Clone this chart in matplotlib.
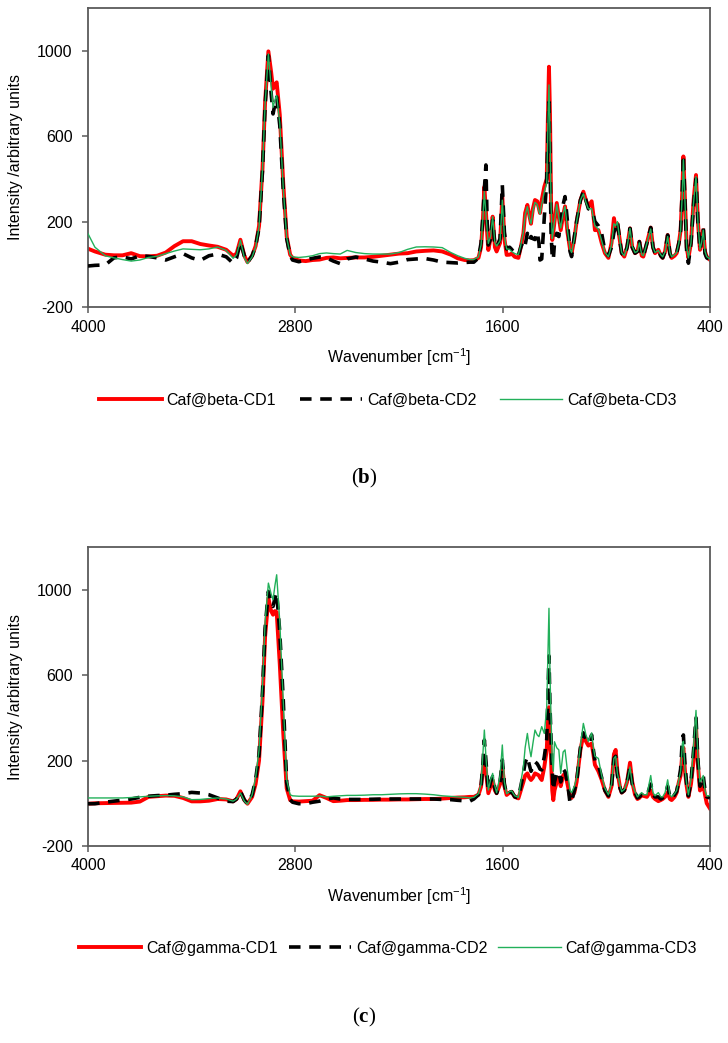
#!/usr/bin/env python3

import matplotlib
matplotlib.use('Agg')
import matplotlib.pyplot as plt

plt.rcParams['font.family'] = ['Liberation Sans', 'DejaVu Sans']
plt.rcParams['mathtext.fontset'] = 'custom'
plt.rcParams['mathtext.rm'] = 'Liberation Sans'
plt.rcParams['mathtext.bf'] = 'Liberation Serif:bold'
plt.rcParams['axes.unicode_minus'] = False

# shared wavenumber grid (cm-1)
wn = [4000, 3960, 3900, 3850, 3800, 3750, 3700, 3650, 3600, 3550,
      3500, 3450, 3400, 3350, 3300, 3250, 3200, 3160, 3140, 3118,
      3095, 3077, 3050, 3030, 3010, 2990, 2975, 2956, 2940, 2929,
      2918, 2908, 2890, 2870, 2850, 2830, 2816, 2780, 2740, 2700,
      2660, 2620, 2580, 2540, 2500, 2450, 2400, 2350, 2300, 2250,
      2200, 2150, 2100, 2050, 2000, 1950, 1900, 1860, 1820, 1790,
      1767, 1740, 1725, 1715, 1706, 1697, 1690, 1683, 1670, 1658,
      1645, 1635, 1615, 1602, 1590, 1577, 1560, 1548, 1530, 1509,
      1495, 1480, 1470, 1457, 1446, 1436, 1425, 1413, 1400, 1390,
      1384, 1374, 1359, 1345, 1338, 1332, 1326, 1320, 1313, 1307,
      1300, 1287, 1275, 1264, 1250, 1239, 1225, 1210, 1201, 1185,
      1172, 1150, 1133, 1118, 1104, 1085, 1075, 1066, 1046, 1027,
      1008, 988, 970, 956, 946, 936, 920, 911, 896, 880,
      863, 850, 834, 820, 809, 795, 786, 765, 743, 730,
      718, 699, 685, 674, 660, 645, 632, 622, 605, 593,
      580, 570, 560, 554, 545, 535, 525, 510, 495, 481,
      470, 458, 449, 439, 429, 419, 400]

# panel (b): beta-CD
beta_cd1 = [73, 60, 45, 42, 42, 52, 38, 37, 40, 55,
            85, 108, 108, 95, 88, 82, 68, 40, 50, 115,
            40, 10, 40, 85, 180, 450, 760, 997, 900, 822,
            840, 852, 700, 380, 130, 45, 30, 18, 15, 20,
            22, 30, 32, 28, 30, 32, 32, 35, 40, 45,
            50, 52, 60, 63, 65, 60, 45, 28, 20, 18,
            19, 30, 80, 200, 363, 250, 150, 67, 120, 223,
            80, 60, 100, 317, 120, 44, 45, 50, 35, 30,
            80, 145, 240, 278, 230, 190, 260, 301, 295, 260,
            240, 300, 363, 400, 700, 925, 700, 300, 114, 150,
            200, 287, 220, 160, 230, 271, 150, 70, 52, 120,
            200, 300, 340, 300, 271, 295, 230, 160, 160, 100,
            52, 30, 100, 216, 170, 190, 100, 52, 36, 80,
            168, 80, 52, 60, 106, 40, 36, 100, 172, 80,
            52, 68, 40, 30, 60, 137, 50, 30, 40, 52,
            100, 160, 350, 505, 300, 80, 30, 100, 300, 418,
            200, 68, 100, 160, 60, 36, 21]
beta_cd2 = [-8, -5, -3, 30, 35, 25, 40, 37, 30, 20,
            35, 50, 30, 18, 40, 48, 35, 5, 30, 104,
            40, 8, 40, 85, 170, 440, 740, 977, 800, 704,
            750, 783, 650, 350, 120, 40, 20, 12, 20, 28,
            34, 30, 15, 3, 25, 34, 25, 15, 10, 3,
            10, 22, 25, 27, 20, 10, 8, 6, 8, 10,
            10, 30, 100, 220, 350, 465, 200, 90, 120, 207,
            90, 80, 120, 371, 150, 72, 80, 70, 50, 40,
            80, 110, 90, 145, 110, 130, 120, 116, 150, 100,
            20, 25, 223, 400, 600, 760, 500, 150, 30, 21,
            100, 145, 130, 200, 280, 317, 200, 60, 36, 130,
            200, 300, 340, 300, 260, 255, 230, 200, 180, 145,
            60, 40, 80, 150, 170, 200, 100, 52, 36, 80,
            168, 80, 52, 60, 106, 40, 36, 100, 172, 80,
            52, 68, 40, 30, 60, 137, 50, 30, 40, 52,
            100, 160, 360, 512, 300, 60, 5, 100, 280, 400,
            200, 68, 110, 170, 50, 30, 21]
beta_cd3 = [143, 80, 40, 30, 22, 15, 20, 32, 37, 50,
            62, 72, 70, 68, 72, 81, 65, 28, 45, 112,
            30, 3, 35, 80, 175, 445, 750, 985, 830, 735,
            770, 790, 660, 360, 125, 45, 35, 32, 35, 40,
            50, 53, 50, 48, 65, 55, 50, 48, 48, 48,
            55, 70, 81, 82, 81, 78, 55, 40, 28, 22,
            22, 35, 90, 210, 340, 240, 160, 98, 130, 223,
            100, 85, 110, 300, 130, 72, 70, 60, 50, 45,
            90, 150, 230, 270, 220, 190, 250, 290, 280, 250,
            235, 280, 340, 380, 650, 840, 620, 280, 120, 160,
            200, 280, 220, 170, 240, 271, 160, 70, 55, 120,
            200, 300, 330, 290, 260, 260, 220, 180, 165, 110,
            55, 35, 90, 190, 180, 200, 100, 55, 40, 80,
            168, 85, 55, 60, 100, 45, 40, 100, 165, 80,
            55, 65, 45, 35, 60, 130, 55, 35, 45, 55,
            100, 160, 340, 490, 290, 80, 30, 100, 290, 410,
            200, 70, 100, 160, 60, 36, 25]

# panel (c): gamma-CD
gamma_cd1 = [-2, 0, 1, 2, 3, 3, 8, 30, 33, 36,
             35, 25, 9, 9, 12, 20, 18, 9, 20, 56,
             15, -2, 30, 90, 200, 480, 780, 961, 900, 883,
             900, 895, 650, 330, 70, 15, 9, 8, 10, 12,
             38, 25, 10, 12, 15, 15, 16, 16, 17, 17,
             18, 18, 19, 20, 20, 22, 25, 27, 28, 30,
             30, 40, 78, 150, 218, 150, 100, 47, 80, 109,
             60, 47, 90, 171, 80, 39, 50, 54, 30, 23,
             60, 100, 130, 140, 120, 109, 120, 140, 135, 130,
             120, 109, 170, 250, 380, 450, 320, 200, 60, 15,
             60, 100, 120, 80, 130, 140, 90, 30, 25, 50,
             100, 250, 320, 290, 270, 280, 230, 180, 150, 110,
             60, 30, 80, 230, 250, 150, 70, 50, 60, 100,
             190, 100, 40, 20, 25, 40, 35, 30, 60, 30,
             20, 10, 15, 20, 30, 50, 20, 15, 30, 50,
             100, 130, 240, 260, 150, 80, 30, 90, 200, 360,
             180, 60, 70, 90, 40, 0, -25]
gamma_cd2 = [-2, -2, 5, 10, 15, 20, 28, 33, 36, 38,
             42, 45, 51, 48, 40, 25, 10, 8, 20, 56,
             15, -2, 40, 110, 230, 520, 820, 992, 940, 922,
             960, 987, 800, 485, 96, 17, 5, -2, -2, 5,
             10, 20, 25, 20, 18, 18, 18, 19, 20, 20,
             20, 20, 20, 20, 20, 18, 17, 14, 12, 10,
             20, 40, 80, 180, 296, 200, 120, 55, 100, 125,
             70, 47, 100, 203, 90, 39, 50, 54, 30, 25,
             80, 140, 190, 218, 180, 150, 170, 195, 185, 171,
             160, 156, 218, 300, 500, 690, 450, 300, 150, 62,
             100, 140, 148, 100, 160, 148, 100, 0, 10, 60,
             100, 260, 330, 300, 280, 320, 250, 200, 180, 120,
             60, 35, 80, 210, 220, 130, 70, 50, 60, 100,
             170, 90, 50, 25, 30, 40, 35, 35, 90, 40,
             30, 30, 20, 25, 45, 80, 30, 20, 40, 55,
             110, 160, 300, 320, 180, 90, 35, 100, 250, 400,
             200, 80, 100, 130, 60, 30, 25]
gamma_cd3 = [25, 25, 25, 25, 25, 27, 30, 33, 35, 36,
             35, 30, 17, 18, 22, 25, 20, 10, 20, 48,
             10, -5, 40, 120, 250, 550, 850, 1031, 980, 953,
             1020, 1070, 850, 485, 110, 40, 35, 33, 33, 33,
             34, 30, 33, 35, 37, 37, 38, 40, 40, 42,
             44, 45, 45, 43, 40, 35, 32, 30, 28, 25,
             28, 45, 90, 220, 343, 220, 140, 62, 110, 140,
             80, 50, 130, 273, 100, 45, 55, 58, 35, 28,
             100, 171, 260, 327, 260, 218, 280, 343, 320, 312,
             330, 359, 327, 450, 700, 913, 600, 400, 200, 150,
             288, 260, 250, 140, 240, 250, 150, 60, 50, 80,
             120, 270, 374, 320, 290, 330, 260, 220, 210, 130,
             70, 40, 90, 210, 220, 140, 80, 55, 65, 100,
             170, 90, 55, 30, 40, 50, 40, 40, 130, 50,
             35, 50, 30, 30, 50, 110, 40, 30, 45, 60,
             110, 150, 280, 290, 160, 90, 40, 110, 270, 435,
             220, 100, 110, 130, 60, 35, 35]

x_ticks = [4000, 2800, 1600, 400]
y_ticks = [-200, 200, 600, 1000]

W, H = 728, 1043
fig = plt.figure(figsize=(W / 100, H / 100), dpi=100)

spine_col = '#5a5a5a'


def panel(top_px, s1, s2, s3, names, tag, legend_px, tag_px, leg_cs):
	ax = fig.add_axes([88 / W, 1 - (top_px + 299) / H, 622 / W, 299 / H])
	ax.plot(wn, s1, color='#ff0000', lw=2.8, label=names[0], zorder=2)
	ax.plot(wn, s2, color='black', lw=2.6, ls=(0, (3.2, 2.4)), label=names[1], zorder=3)
	ax.plot(wn, s3, color='#22b05a', lw=1.0, label=names[2], zorder=4)
	ax.set_xlim(4000, 400)
	ax.set_ylim(-200, 1200)
	ax.set_xticks(x_ticks)
	ax.set_yticks(y_ticks)
	for sp in ax.spines.values():
		sp.set_color(spine_col)
		sp.set_linewidth(1.3)
	ax.tick_params(axis='both', direction='out', length=4, width=1.1,
				   color=spine_col, labelsize=11.5)
	ax.tick_params(axis='y', pad=7)
	ax.tick_params(axis='x', pad=5)
	ax.set_ylabel('Intensity /arbitrary units', fontsize=11.5)
	ax.yaxis.set_label_coords(-0.105, 0.5)
	ax.set_xlabel('Wavenumber [cm$^{-1}$]', fontsize=11.5)
	ax.xaxis.set_label_coords(0.5, -0.132)
	hs, ls = ax.get_legend_handles_labels()
	fig.legend(hs, ls, loc='center', ncol=3, frameon=False, fontsize=11.5,
			   handlelength=3.9, handletextpad=0.3, columnspacing=leg_cs,
			   bbox_to_anchor=(388 / W, 1 - legend_px / H))
	fig.text(0.5, 1 - tag_px / H, tag, ha='center', va='center',
			 fontsize=15, family=['Liberation Serif', 'DejaVu Serif'])
	return ax


panel(8, beta_cd1, beta_cd2, beta_cd3,
	  ['Caf@beta-CD1', 'Caf@beta-CD2', 'Caf@beta-CD3'],
	  r'($\mathbf{b}$)', 400, 478, 1.5)
panel(547, gamma_cd1, gamma_cd2, gamma_cd3,
	  ['Caf@gamma-CD1', 'Caf@gamma-CD2', 'Caf@gamma-CD3'],
	  r'($\mathbf{c}$)', 948, 1017, 0.7)

plt.savefig('out.png', dpi=100)
